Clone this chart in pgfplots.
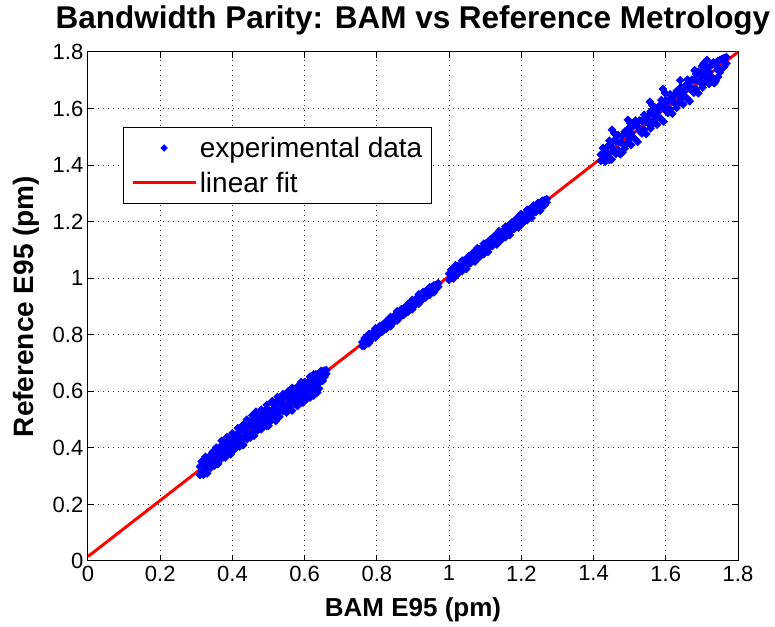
\documentclass[border=0pt]{standalone}
\usepackage{pgfplots}
\pgfplotsset{compat=1.18}
\usepackage{fontspec}
\setmainfont{Liberation Sans}
\begin{document}
\begin{tikzpicture}
\useasboundingbox (-66pt,-49.5pt) rectangle (515.25pt,420.75pt);
\begin{axis}[
  scale only axis, width=487.5pt, height=381.75pt,
  at={(0,0)}, anchor=south west,
  xmin=0, xmax=1.8, ymin=0, ymax=1.8,
  xtick={0,0.2,...,1.8}, ytick={0,0.2,...,1.8},
  /pgf/number format/.cd, fixed, precision=1, assume math mode=true, /pgfplots/.cd,
  ticklabel style={font=\fontsize{16.5}{18}\selectfont, text=black},
  tick align=inside, major tick length=4.5pt,
  tick style={black, line width=0.75pt},
  axis line style={line width=0.75pt},
  grid=major,
  major grid style={black!80, line width=0.75pt, dash pattern=on 0.75pt off 3pt},
  title={Bandwidth Parity: BAM vs Reference Metrology},
  title style={font=\bfseries\fontsize{23.6}{26}\selectfont, at={(axis description cs:0.5,1.031)}, anchor=base},
  xlabel={BAM E95 (pm)},
  xlabel style={font=\bfseries\fontsize{19.5}{22}\selectfont, at={(axis description cs:0.5,-0.110)}, anchor=base},
  ylabel={Reference E95 (pm)},
  ylabel style={font=\bfseries\fontsize{21}{24}\selectfont, at={(axis description cs:-0.0831,0.5)}, anchor=base},
  legend style={at={(0.0538,0.8527)}, anchor=north west, draw=black, line width=0.75pt,
    font=\fontsize{21}{24}\selectfont,
    cells={anchor=west},
    inner xsep=5pt, inner ysep=5pt, row sep=5.5pt},
  clip=true,
]
\addplot[only marks, mark=square*, mark size=2.1pt, mark options={rotate=45, fill=blue, draw=blue},
  legend image code/.code={\path (-1.5pt,0pt) (47.25pt,0pt); \path[mark=square*, mark size=1.6pt, mark options={rotate=45, fill=blue, draw=blue}] plot coordinates {(23.6pt,0pt)};}]
table {
x y
0.310 0.334
0.310 0.304
0.315 0.352
0.315 0.318
0.320 0.340
0.320 0.305
0.325 0.368
0.325 0.323
0.330 0.360
0.330 0.310
0.335 0.369
0.335 0.341
0.340 0.357
0.340 0.330
0.345 0.385
0.345 0.346
0.350 0.377
0.350 0.337
0.355 0.401
0.355 0.351
0.360 0.382
0.360 0.343
0.365 0.397
0.365 0.369
0.370 0.409
0.370 0.362
0.375 0.394
0.375 0.374
0.380 0.416
0.380 0.366
0.385 0.413
0.385 0.393
0.390 0.432
0.390 0.383
0.395 0.420
0.395 0.377
0.400 0.433
0.400 0.402
0.405 0.426
0.405 0.394
0.410 0.434
0.410 0.404
0.415 0.452
0.415 0.418
0.420 0.440
0.420 0.405
0.425 0.468
0.425 0.423
0.430 0.460
0.430 0.410
0.435 0.469
0.435 0.441
0.440 0.457
0.440 0.430
0.445 0.485
0.445 0.446
0.450 0.477
0.450 0.437
0.455 0.501
0.455 0.451
0.460 0.482
0.460 0.443
0.465 0.497
0.465 0.469
0.470 0.509
0.470 0.462
0.475 0.494
0.475 0.474
0.480 0.516
0.480 0.466
0.485 0.513
0.485 0.493
0.490 0.532
0.490 0.483
0.495 0.520
0.495 0.477
0.500 0.533
0.500 0.502
0.505 0.526
0.505 0.494
0.510 0.534
0.510 0.504
0.515 0.552
0.515 0.518
0.520 0.540
0.520 0.505
0.525 0.568
0.525 0.523
0.530 0.560
0.530 0.510
0.535 0.569
0.535 0.541
0.540 0.557
0.540 0.530
0.545 0.585
0.545 0.546
0.550 0.577
0.550 0.537
0.555 0.601
0.555 0.551
0.560 0.582
0.560 0.543
0.565 0.597
0.565 0.569
0.570 0.609
0.570 0.562
0.575 0.594
0.575 0.574
0.580 0.616
0.580 0.566
0.585 0.613
0.585 0.593
0.590 0.632
0.590 0.583
0.595 0.620
0.595 0.577
0.600 0.633
0.600 0.602
0.605 0.626
0.605 0.594
0.610 0.634
0.610 0.604
0.615 0.652
0.615 0.618
0.620 0.640
0.620 0.605
0.625 0.660
0.625 0.623
0.630 0.660
0.630 0.610
0.635 0.660
0.635 0.641
0.640 0.657
0.640 0.630
0.645 0.672
0.645 0.646
0.650 0.670
0.650 0.637
0.655 0.673
0.655 0.651
0.660 0.675
0.660 0.662
0.370 0.425
0.385 0.438
0.400 0.452
0.415 0.470
0.430 0.482
0.440 0.500
0.455 0.515
0.465 0.528
0.480 0.535
0.495 0.552
0.510 0.565
0.525 0.580
0.540 0.590
0.565 0.612
0.550 0.525
0.565 0.532
0.580 0.548
0.595 0.560
0.605 0.572
0.615 0.578
0.625 0.585
0.635 0.596
0.640 0.610
0.520 0.495
0.500 0.478
0.760 0.774
0.760 0.760
0.766 0.788
0.766 0.761
0.772 0.789
0.772 0.775
0.778 0.803
0.778 0.770
0.784 0.796
0.784 0.782
0.790 0.810
0.790 0.791
0.796 0.823
0.796 0.790
0.802 0.818
0.802 0.799
0.808 0.831
0.808 0.812
0.814 0.833
0.814 0.810
0.820 0.834
0.820 0.820
0.826 0.848
0.826 0.821
0.832 0.849
0.832 0.835
0.838 0.863
0.838 0.830
0.844 0.856
0.844 0.842
0.850 0.870
0.850 0.851
0.856 0.883
0.856 0.850
0.862 0.878
0.862 0.859
0.868 0.891
0.868 0.872
0.874 0.893
0.874 0.870
0.880 0.894
0.880 0.880
0.886 0.908
0.886 0.881
0.892 0.909
0.892 0.895
0.898 0.923
0.898 0.890
0.904 0.916
0.904 0.902
0.910 0.930
0.910 0.911
0.916 0.943
0.916 0.910
0.922 0.938
0.922 0.919
0.928 0.951
0.928 0.932
0.934 0.953
0.934 0.930
0.940 0.954
0.940 0.940
0.946 0.968
0.946 0.941
0.952 0.969
0.952 0.955
0.958 0.975
0.958 0.950
0.964 0.976
0.964 0.962
0.970 0.982
0.970 0.970
1.000 1.016
1.000 0.994
1.006 1.030
1.006 1.006
1.012 1.024
1.012 0.999
1.018 1.046
1.018 1.015
1.024 1.043
1.024 1.015
1.030 1.044
1.030 1.032
1.036 1.062
1.036 1.025
1.042 1.063
1.042 1.038
1.048 1.058
1.048 1.033
1.054 1.077
1.054 1.053
1.060 1.076
1.060 1.054
1.066 1.090
1.066 1.066
1.072 1.084
1.072 1.059
1.078 1.106
1.078 1.075
1.084 1.103
1.084 1.075
1.090 1.104
1.090 1.092
1.096 1.122
1.096 1.085
1.102 1.123
1.102 1.098
1.108 1.118
1.108 1.093
1.114 1.137
1.114 1.113
1.120 1.136
1.120 1.114
1.126 1.150
1.126 1.126
1.132 1.144
1.132 1.119
1.138 1.166
1.138 1.135
1.144 1.163
1.144 1.135
1.150 1.164
1.150 1.152
1.156 1.182
1.156 1.145
1.162 1.183
1.162 1.158
1.168 1.178
1.168 1.153
1.174 1.197
1.174 1.173
1.180 1.196
1.180 1.174
1.186 1.210
1.186 1.186
1.192 1.204
1.192 1.179
1.198 1.226
1.198 1.195
1.204 1.223
1.204 1.195
1.210 1.224
1.210 1.212
1.216 1.242
1.216 1.205
1.222 1.243
1.222 1.218
1.228 1.238
1.228 1.213
1.234 1.257
1.234 1.233
1.240 1.256
1.240 1.234
1.246 1.266
1.246 1.246
1.252 1.264
1.252 1.239
1.258 1.274
1.258 1.255
1.264 1.276
1.264 1.258
1.270 1.280
1.270 1.268
1.420 1.437
1.420 1.415
1.426 1.460
1.426 1.420
1.432 1.442
1.432 1.412
1.438 1.465
1.438 1.426
1.444 1.486
1.444 1.418
1.450 1.464
1.450 1.420
1.456 1.486
1.456 1.448
1.462 1.484
1.462 1.440
1.468 1.506
1.468 1.454
1.474 1.481
1.474 1.438
1.480 1.504
1.480 1.476
1.486 1.518
1.486 1.458
1.492 1.509
1.492 1.474
1.498 1.532
1.498 1.492
1.504 1.514
1.504 1.471
1.510 1.537
1.510 1.498
1.516 1.558
1.516 1.490
1.522 1.536
1.522 1.482
1.528 1.558
1.528 1.520
1.534 1.556
1.534 1.512
1.540 1.578
1.540 1.526
1.546 1.553
1.546 1.510
1.552 1.576
1.552 1.548
1.558 1.590
1.558 1.530
1.564 1.581
1.564 1.546
1.570 1.604
1.570 1.564
1.576 1.586
1.576 1.543
1.582 1.609
1.582 1.570
1.588 1.630
1.588 1.562
1.594 1.608
1.594 1.554
1.600 1.630
1.600 1.592
1.606 1.628
1.606 1.584
1.612 1.650
1.612 1.598
1.618 1.625
1.618 1.582
1.624 1.648
1.624 1.620
1.630 1.662
1.630 1.602
1.636 1.653
1.636 1.618
1.642 1.676
1.642 1.636
1.648 1.658
1.648 1.615
1.654 1.681
1.654 1.642
1.660 1.702
1.660 1.634
1.666 1.680
1.666 1.626
1.672 1.702
1.672 1.664
1.678 1.700
1.678 1.656
1.684 1.722
1.684 1.670
1.690 1.697
1.690 1.654
1.696 1.720
1.696 1.692
1.702 1.734
1.702 1.674
1.708 1.725
1.708 1.690
1.714 1.748
1.714 1.708
1.720 1.730
1.720 1.687
1.726 1.753
1.726 1.714
1.732 1.764
1.732 1.692
1.738 1.752
1.738 1.698
1.744 1.768
1.744 1.736
1.750 1.772
1.750 1.728
1.756 1.776
1.756 1.742
1.762 1.779
1.762 1.748
1.768 1.782
1.768 1.760
1.451 1.525
1.458 1.512
1.495 1.560
1.502 1.548
1.556 1.624
1.562 1.612
1.592 1.669
1.598 1.655
1.640 1.700
1.700 1.750
1.735 1.690
1.745 1.712
1.725 1.695
1.480 1.445
1.440 1.440
1.520 1.540
1.580 1.600
1.620 1.640
1.660 1.680
1.700 1.715
1.600 1.610
1.550 1.560
1.650 1.660
1.740 1.760
1.690 1.730
1.714 1.772
1.705 1.760
1.680 1.735
};
\addlegendentry{experimental data}
\addplot[red, line width=2.2pt,
  legend image code/.code={\draw[red, line width=2.2pt] (0pt,0pt) -- (47.25pt,0pt);}]
table {
x y
0 0.016
1.8 1.800
};
\addlegendentry{linear fit}
\end{axis}
\end{tikzpicture}
\end{document}
